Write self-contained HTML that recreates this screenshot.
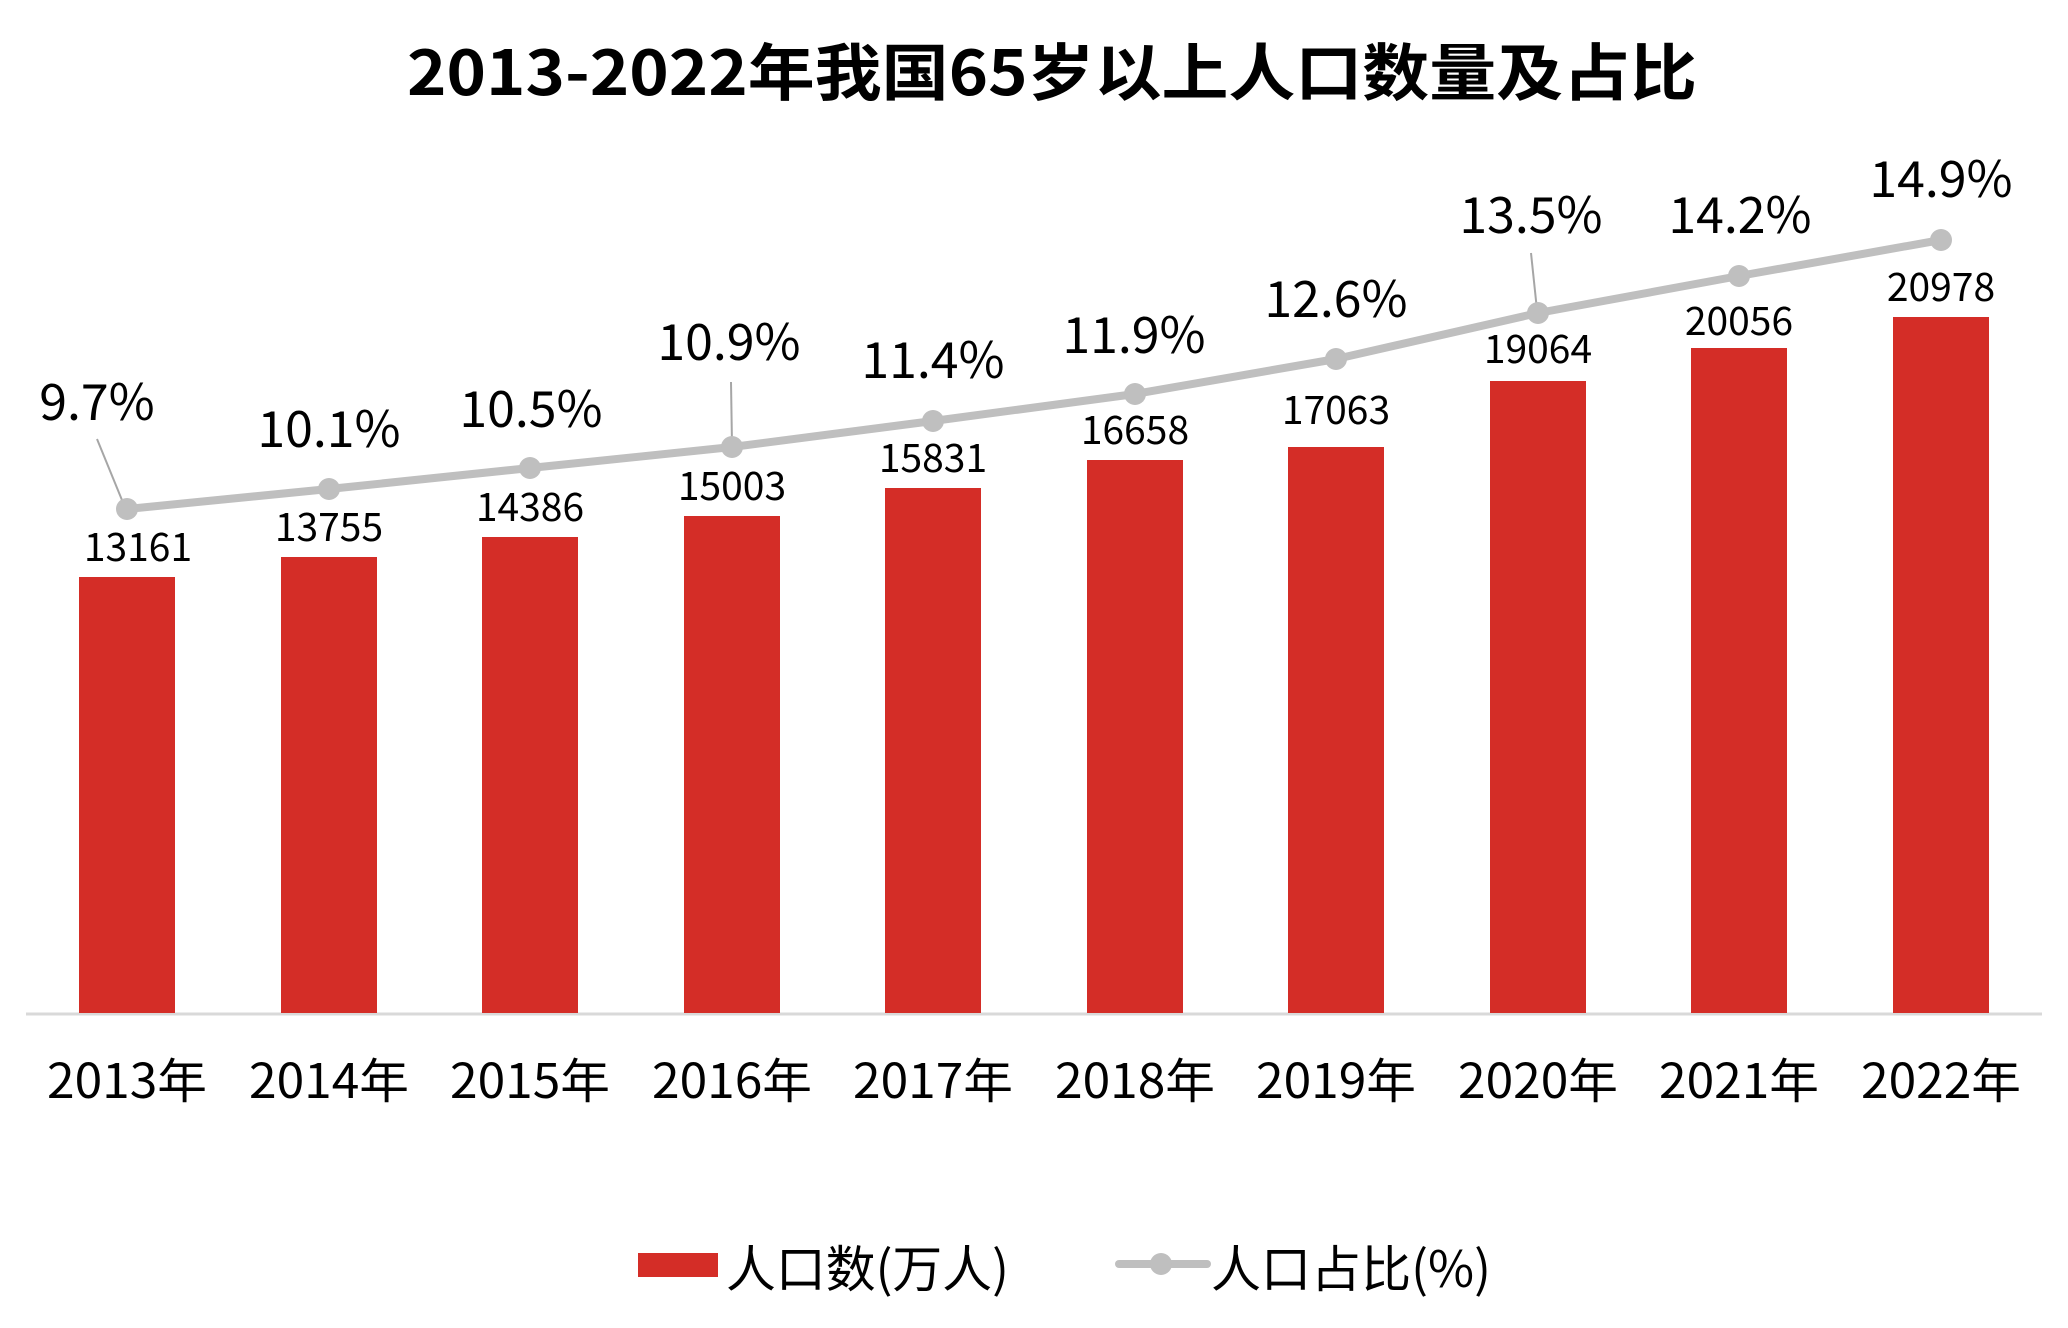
<!DOCTYPE html>
<html><head><meta charset="utf-8"><style>
html,body{margin:0;padding:0;background:#fff;}
svg{display:block;}
text{font-family:"Noto Sans CJK SC","Liberation Sans",sans-serif;fill:#000;}
</style></head><body>
<svg width="2068" height="1328" viewBox="0 0 2068 1328" xmlns="http://www.w3.org/2000/svg">
<text x="1052" y="95" text-anchor="middle" font-size="62" font-weight="700" textLength="1290" lengthAdjust="spacingAndGlyphs">2013-2022年我国65岁以上人口数量及占比</text>
<line x1="26" y1="1014" x2="2042" y2="1014" stroke="#D9D9D9" stroke-width="3"/>
<g fill="#D42D27">
<rect x="79" y="577" width="96" height="436"/>
<rect x="281" y="557" width="96" height="456"/>
<rect x="482" y="537" width="96" height="476"/>
<rect x="684" y="516" width="96" height="497"/>
<rect x="885" y="488" width="96" height="525"/>
<rect x="1087" y="460" width="96" height="553"/>
<rect x="1288" y="447" width="96" height="566"/>
<rect x="1490" y="381" width="96" height="632"/>
<rect x="1691" y="348" width="96" height="665"/>
<rect x="1893" y="317" width="96" height="696"/>
</g>
<g font-size="39" text-anchor="middle">
<text x="138" y="561">13161</text>
<text x="329" y="541">13755</text>
<text x="530" y="521">14386</text>
<text x="732" y="500">15003</text>
<text x="933" y="472">15831</text>
<text x="1135" y="444">16658</text>
<text x="1336" y="424">17063</text>
<text x="1538" y="363">19064</text>
<text x="1739" y="335">20056</text>
<text x="1941" y="301">20978</text>
</g>
<g stroke="#A6A6A6" stroke-width="2">
<line x1="97" y1="439" x2="124" y2="505"/>
<line x1="731" y1="382" x2="732" y2="445"/>
<line x1="1531" y1="253" x2="1537" y2="310"/>
</g>
<polyline fill="none" stroke="#BFBFBF" stroke-width="8" stroke-linejoin="round" points="127,509 329,489 530,468 732,447 933,421 1135,394 1336,359 1538,313 1739,276 1941,240"/>
<g fill="#BFBFBF">
<circle cx="127" cy="509" r="11"/><circle cx="329" cy="489" r="11"/><circle cx="530" cy="468" r="11"/><circle cx="732" cy="447" r="11"/><circle cx="933" cy="421" r="11"/><circle cx="1135" cy="394" r="11"/><circle cx="1336" cy="359" r="11"/><circle cx="1538" cy="313" r="11"/><circle cx="1739" cy="276" r="11"/><circle cx="1941" cy="240" r="11"/>
</g>
<g font-size="50" text-anchor="middle">
<text x="97" y="420">9.7%</text>
<text x="329" y="447">10.1%</text>
<text x="531" y="427">10.5%</text>
<text x="729" y="360">10.9%</text>
<text x="933" y="378">11.4%</text>
<text x="1134" y="353">11.9%</text>
<text x="1336" y="317">12.6%</text>
<text x="1531" y="233">13.5%</text>
<text x="1740" y="233">14.2%</text>
<text x="1941" y="197">14.9%</text>
</g>
<g font-size="48" text-anchor="middle">
<text x="127" y="1098" textLength="160" lengthAdjust="spacingAndGlyphs">2013年</text>
<text x="329" y="1098" textLength="160" lengthAdjust="spacingAndGlyphs">2014年</text>
<text x="530" y="1098" textLength="160" lengthAdjust="spacingAndGlyphs">2015年</text>
<text x="732" y="1098" textLength="160" lengthAdjust="spacingAndGlyphs">2016年</text>
<text x="933" y="1098" textLength="160" lengthAdjust="spacingAndGlyphs">2017年</text>
<text x="1135" y="1098" textLength="160" lengthAdjust="spacingAndGlyphs">2018年</text>
<text x="1336" y="1098" textLength="160" lengthAdjust="spacingAndGlyphs">2019年</text>
<text x="1538" y="1098" textLength="160" lengthAdjust="spacingAndGlyphs">2020年</text>
<text x="1739" y="1098" textLength="160" lengthAdjust="spacingAndGlyphs">2021年</text>
<text x="1941" y="1098" textLength="160" lengthAdjust="spacingAndGlyphs">2022年</text>
</g>
<rect x="638" y="1253" width="80" height="24" fill="#D42D27"/>
<text x="726" y="1287" font-size="50" textLength="283" lengthAdjust="spacingAndGlyphs">人口数(万人)</text>
<line x1="1119" y1="1264" x2="1207" y2="1264" stroke="#BFBFBF" stroke-width="8" stroke-linecap="round"/>
<circle cx="1161" cy="1264" r="11" fill="#BFBFBF"/>
<text x="1211" y="1287" font-size="50" textLength="280" lengthAdjust="spacingAndGlyphs">人口占比(%)</text>
</svg>
</body></html>
